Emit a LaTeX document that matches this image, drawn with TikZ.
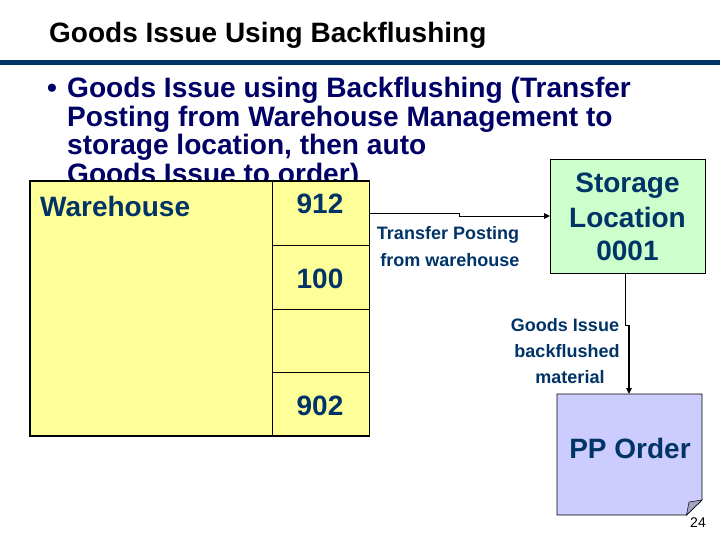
\documentclass[tikz,border=0pt]{standalone}
\usepackage{fontspec}
\setmainfont{Liberation Sans}
\usetikzlibrary{arrows.meta,calc}
\definecolor{bodyblue}{HTML}{000066}
\definecolor{labelblue}{HTML}{003366}
\definecolor{wareyellow}{HTML}{FFFF99}
\definecolor{storegreen}{HTML}{CCFFCC}
\definecolor{orderlilac}{HTML}{CCCCFF}
\definecolor{foldgrey}{HTML}{A3A3C2}
\tikzset{
  x=1pt,y=-1pt,
  titletext/.style={anchor=base west,inner sep=0pt,font=\fontsize{28}{28}\selectfont\bfseries,text=black},
  bodytext/.style={anchor=base west,inner sep=0pt,font=\fontsize{28.1}{28}\selectfont\bfseries,text=bodyblue},
  boxlabel/.style={inner sep=0pt,font=\fontsize{28}{28}\selectfont\bfseries,text=labelblue,align=center},
  smalllabel/.style={inner sep=0pt,font=\fontsize{18}{18}\selectfont\bfseries,text=labelblue,anchor=base},
  stockbox/.style={draw=black,line width=0.9pt,fill=wareyellow,inner sep=0pt,anchor=north west},
  outerline/.style={draw=black,line width=1.7pt},
  flow/.style={draw=black,line width=0.9pt},
  flowthick/.style={draw=black,line width=1.6pt},
  tip/.style={-{Triangle[length=6pt,width=5.5pt]}},
}
\begin{document}
\begin{tikzpicture}
\useasboundingbox (0,0) rectangle (720,540);
\fill[white] (0,0) rectangle (720,540);
\node[titletext] (title) at (49,43) {Goods Issue Using Backflushing};
\fill[labelblue] (0,60) rectangle (720,65.5);
\node[bodytext] (bullet) at (47,98) {•};
\node[bodytext] (b1) at (67,98) {Goods Issue using Backflushing (Transfer};
\node[bodytext] (b2) at (67,127) {Posting from Warehouse Management to};
\node[bodytext] (b3) at (67,155) {storage location, then auto};
\node[bodytext] (b4) at (67,184) {Goods Issue to order)};
% warehouse
\node[stockbox,minimum width=241.5pt,minimum height=254pt] (wh) at (30,181) {};
\node[stockbox,minimum width=97pt,minimum height=64pt] (s912) at (271.5,181) {};
\node[stockbox,minimum width=97pt,minimum height=64pt] (s100) at (271.5,245) {};
\node[stockbox,minimum width=97pt,minimum height=63pt] (sempty) at (271.5,309) {};
\node[stockbox,minimum width=97pt,minimum height=63pt] (s902) at (271.5,372) {};
\draw[outerline] (wh.north west) -- (s912.north east) -- (s902.south east) -- (wh.south west) -- cycle;
\node[boxlabel,anchor=base west] (whl) at (40,217) {Warehouse};
\node[boxlabel,anchor=base] (l912) at (320,214) {912};
\node[boxlabel,anchor=base] (l100) at (320,288) {100};
\node[boxlabel,anchor=base] (l902) at (320,415) {902};
% storage
\node[draw=black,line width=0.9pt,fill=storegreen,anchor=north west,minimum width=155pt,minimum height=114pt,inner sep=0pt] (st) at (550,159) {};
\node[boxlabel,anchor=base] (st1) at (627.5,193) {Storage};
\node[boxlabel,anchor=base] (st2) at (627.5,227) {Location};
\node[boxlabel,anchor=base] (st3) at (627.5,260) {0001};
% order
\coordinate (o1) at (557,394);
\coordinate (o2) at (702,394);
\coordinate (o3) at (702,500);
\coordinate (o4) at (686.5,515);
\coordinate (o5) at (557,515);
\filldraw[draw=black,line width=0.9pt,fill=orderlilac] (o1) -- (o2) -- (o3) -- (o4) -- (o5) -- cycle;
\filldraw[draw=black,line width=0.5pt,fill=foldgrey] (o3) -- (689,502) -- (o4) -- cycle;
\node[boxlabel,anchor=base] (ord) at (630,458) {PP Order};
\node[inner sep=0pt,anchor=base,font=\fontsize{14}{14}\selectfont,text=black] (pg) at (698,527) {24};
% connectors
\coordinate (a1) at (s912.east |- 0,213.5);
\coordinate (a2) at (459,213.5);
\coordinate (a3) at (459,216);
\coordinate (a4) at (st.west |- 0,216);
\draw[flowthick] (a1) -- (a2);
\draw[flow] (a2) -- (a3);
\draw[flow,tip] (a3) -- (a4);
\coordinate (c1) at (625,273);
\coordinate (c2) at (625,325);
\coordinate (c3) at (629,325);
\coordinate (c4) at (629,394);
\draw[flow] (c1) -- (c2) -- (c3);
\draw[flowthick,tip] (c3) -- (c4);
\node[smalllabel] (t1) at (448,240) {Transfer Posting};
\node[smalllabel] (t2) at (450,266) {from warehouse};
\node[smalllabel] (g1) at (565,331) {Goods Issue};
\node[smalllabel] (g2) at (567,357) {backflushed};
\node[smalllabel] (g3) at (570,383) {material};
\end{tikzpicture}
\end{document}
